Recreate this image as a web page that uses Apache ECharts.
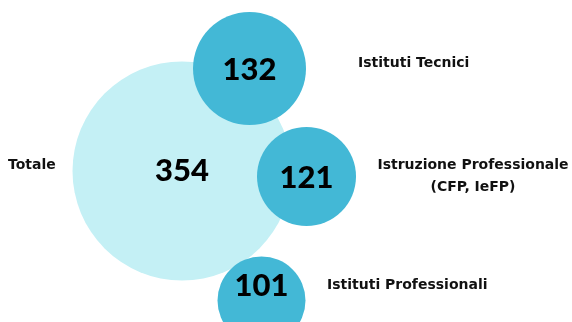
<!DOCTYPE html>
<html>
<head>
<meta charset="utf-8">
<script src="https://cdn.jsdelivr.net/npm/echarts@6/dist/echarts.min.js"></script>
<style>html,body{margin:0;padding:0;background:#fff}#c{width:572px;height:322px}</style>
</head>
<body>
<div id="c"></div>
<script>
// Data
const categories = ['Totale', 'Istituti Tecnici', 'Istruzione Professionale\n(CFP, IeFP)', 'Istituti Professionali'];
const values = [354, 132, 121, 101];

// Layout (positions in pixel space, sizes, styles)
const bubbleCenters = [[182, 171], [249.5, 68.5], [306.5, 176.5], [261.5, 300.5]];
const bubbleSizes = [219, 113, 99, 88];
const bubbleColors = ['#c4f0f5', '#43b8d6', '#43b8d6', '#43b8d6'];
const valueOffsets = [[0, 0], [0, 1], [0, 1], [0, -15]];
const catAnchors = [[8, 165, 'left'], [358, 63, 'left'], [473, 176, 'center'], [327, 285, 'left']];

const numFont = 'Lato, "Open Sans", sans-serif';
const catFont = '"DejaVu Sans", sans-serif';

const bubbleData = values.map((v, i) => ({
  value: [bubbleCenters[i][0], bubbleCenters[i][1], v],
  symbolSize: bubbleSizes[i],
  itemStyle: { color: bubbleColors[i], opacity: 1 },
  label: { offset: valueOffsets[i] }
}));

const catData = categories.map((c, i) => ({
  value: [catAnchors[i][0], catAnchors[i][1]],
  name: c,
  label: { align: catAnchors[i][2] }
}));

const chart = echarts.init(document.getElementById('c'), null, { renderer: 'canvas' });
chart.setOption({
  animation: false,
  grid: { left: 0, right: 0, top: 0, bottom: 0 },
  xAxis: { type: 'value', min: 0, max: 572, show: false },
  yAxis: { type: 'value', min: 0, max: 322, inverse: true, show: false },
  series: [
    {
      type: 'scatter',
      clip: false,
      itemStyle: { opacity: 1 },
      data: bubbleData,
      label: {
        show: true,
        position: 'inside',
        formatter: p => p.value[2],
        color: '#000',
        fontFamily: numFont,
        fontWeight: 900,
        fontSize: 31
      },
      emphasis: { disabled: true }
    },
    {
      type: 'scatter',
      symbolSize: 0,
      itemStyle: { opacity: 1 },
      data: catData,
      label: {
        show: true,
        position: [0, 0],
        verticalAlign: 'middle',
        formatter: p => p.name,
        color: '#111',
        fontFamily: catFont,
        fontWeight: 'bold',
        fontSize: 14,
        lineHeight: 22
      },
      emphasis: { disabled: true }
    }
  ]
});
</script>
</body>
</html>
